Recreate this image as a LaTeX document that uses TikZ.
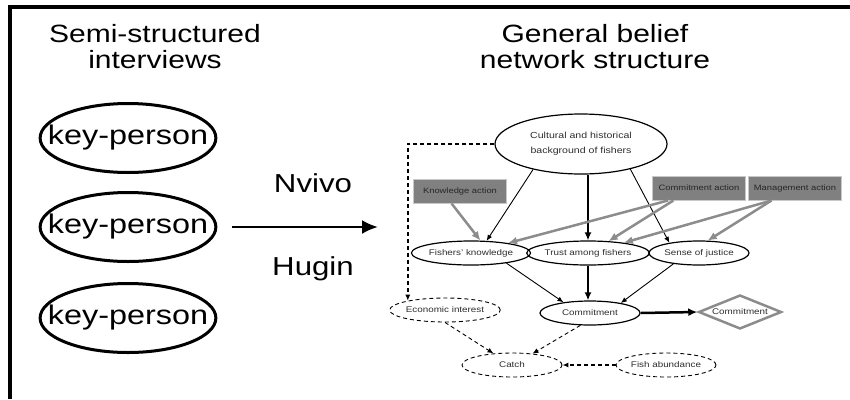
\documentclass[tikz,border=0pt]{standalone}
\usepackage{fontspec}
\setmainfont{Liberation Sans}[FakeStretch=1.2]
\usetikzlibrary{shapes.geometric,arrows.meta}
\definecolor{boxgray}{RGB}{128,128,128}
\definecolor{rimgray}{RGB}{200,200,200}
\definecolor{arrgray}{RGB}{140,140,140}
\definecolor{txtgray}{RGB}{45,45,45}
\tikzset{
  title/.style={anchor=base, font=\fontsize{25}{25}\selectfont},
  person/.style={draw, ellipse, line width=3pt, minimum width=175pt,
    minimum height=69pt, inner xsep=-18pt, inner ysep=0pt,
    font=\fontsize{27}{27}\selectfont},
  var/.style={draw, ellipse, line width=1.2pt, minimum width=100pt,
    minimum height=24pt, inner sep=0pt, text=txtgray,
    font=\fontsize{8.2}{10}\selectfont},
  hid/.style={var, line width=0.9pt, dash pattern=on 4pt off 3pt},
  act/.style={fill=boxgray, draw=rimgray, line width=1pt, minimum width=93pt,
    minimum height=24pt, inner sep=0pt, text=black!85,
    font=\fontsize{7.8}{9}\selectfont},
  dec/.style={diamond, draw=arrgray, line width=2.5pt, minimum width=83pt,
    minimum height=34pt, shape aspect=2.4, inner sep=0pt, text=txtgray,
    font=\fontsize{8.2}{10}\selectfont},
  lnk/.style={-{Latex[length=6pt,width=5pt]}, line width=0.9pt},
  blnk/.style={-{Latex[length=8pt,width=7pt]}, line width=1.8pt},
  glnk/.style={-{Latex[length=9pt,width=8pt]}, draw=arrgray, line width=2.5pt},
  hlnk/.style={lnk, dash pattern=on 4pt off 3pt}
}
\begin{document}
\begin{tikzpicture}[x=1pt, y=-1pt]
    \useasboundingbox (0,0) rectangle (850,399);
    \draw[line width=3.5pt] (850,7) -- (10,7) -- (10,399);

    \node[title] (lt1) at (155,42) {Semi-structured}; \node[title] (lt2) at
    (155,68) {interviews}; \node[title] (rt1) at (595,42) {General belief};
    \node[title] (rt2) at (595,68) {network structure};

    \node[person] (kp1) at (128,138) {key-person}; \node[person] (kp2) at
    (128,227) {key-person}; \node[person] (kp3) at (128,318) {key-person};

    \node[title, font=\fontsize{26}{26}\selectfont] (nv) at (313,192) {Nvivo};
    \node[title, font=\fontsize{26}{26}\selectfont] (hu) at (313,275) {Hugin};
    \coordinate (net) at (378,227);
    \draw[-{Latex[length=16pt,width=14pt]}, line width=2.5pt, shorten <=15pt]
    (kp2.east) -- (net);

    \node[var, align=center, minimum width=172pt, minimum height=60pt,
    font=\fontsize{8.8}{15}\selectfont] (cult) at (581,144) {Cultural and
    historical\\background of fishers};
    \node[act] (ka) at (460,191) {Knowledge action}; \node[act] (ca) at
    (699,188) {Commitment action}; \node[act] (ma) at (795,188) {Management
    action};
    \node[var] (fk) at (471,253) {Fishers' knowledge}; \node[var] (tr) at
    (588,253) {Trust among fishers}; \node[var] (sj) at (699,253) {Sense of
    justice}; \node[var] (com) at (590,313) {Commitment}; \node[dec] (dia) at
    (740,312) {Commitment};
    \node[hid] (ei) at (445,310) {Economic interest}; \node[hid] (catch) at
    (512,365) {Catch}; \node[hid] (fa) at (666,365) {Fish abundance};

    \path (cult.208) edge[lnk] (fk.38); \path (cult.333) edge[lnk] (sj.161);
    \draw[blnk] (tr.north |- cult.south) -- (tr.north);
    \path (ka.236) edge[glnk] (fk.53); \path (ca.202) edge[glnk] (fk.15);
    \path (ca.206) edge[glnk] (tr.30); \path (ma.208) edge[glnk] (tr.16);
    \path (ma.208) edge[glnk] (sj.55);
    \path (fk.344) edge[lnk] (com.158); \path (sj.203) edge[lnk] (com.18);
    \draw[blnk] (tr.south) -- (tr.south |- com.north);
    \draw[-{Latex[length=9pt,width=8pt]}, line width=2.5pt] (com.east) --
    (dia.west);
    \draw[hlnk, line width=1.8pt] (cult.west) -| (ei.166);
    \path (ei.south) edge[hlnk] (catch.148); \path (com.232) edge[hlnk]
    (catch.29); \draw[hlnk, line width=2pt] (fa.west) -- (catch.east);
\end{tikzpicture}
\end{document}
